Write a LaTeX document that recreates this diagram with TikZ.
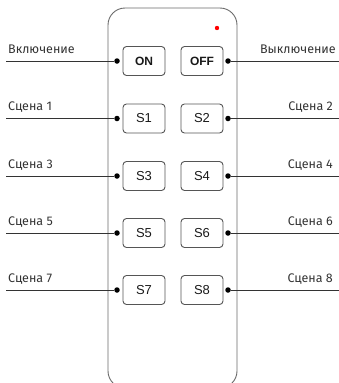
\documentclass[tikz,border=0pt]{standalone}
\usepackage{fontspec}
\setmainfont{Fira Sans}
\newfontfamily\btnfont{Liberation Sans}
\definecolor{linec}{HTML}{333333}
\definecolor{bodyc}{HTML}{6A6A6A}
\definecolor{btnc}{HTML}{555555}
\begin{document}
\begin{tikzpicture}[x=1pt,y=-1pt,
  btn/.style={draw=btnc,line width=0.9pt,rounded corners=3.5pt,minimum width=42pt,minimum height=29pt,inner sep=0pt,font=\btnfont\fontsize{13}{13}\selectfont,text=black!90},
  btnb/.style={btn,font=\btnfont\bfseries\fontsize{12}{12}\selectfont},
  dotn/.style={circle,fill=black,inner sep=0pt,minimum size=5.5pt},
  lab/.style={inner sep=0pt,font=\fontsize{12.5}{12.5}\selectfont,text=black!80},
  conn/.style={draw=linec,line width=0.9pt}]
\useasboundingbox (0,0) rectangle (339,383);
% remote body
\draw[bodyc,line width=0.9pt,rounded corners=17pt] (108,8) rectangle (237,388);
\fill[red] (217,28) circle (2.2pt);
% buttons
\node[btnb] (on) at (144,61) {ON};
\node[btnb] (off) at (202,61) {OFF};
\foreach \i/\y in {1/118.5,3/176,5/233,7/290}{
  \node[btn] (s\i) at (144,\y) {S\i};
}
\foreach \i/\y in {2/118.5,4/176,6/233,8/290}{
  \node[btn] (s\i) at (202,\y) {S\i};
}
% dots
\node[dotn] (don) at (117,61) {};
\node[dotn] (doff) at (228,61) {};
\foreach \i/\y in {1/118.5,3/176,5/233,7/290}{
  \node[dotn] (d\i) at (117,\y) {};
  \coordinate (e\i) at (6,\y);
}
\foreach \i/\y in {2/118.5,4/176,6/233,8/290}{
  \node[dotn] (d\i) at (228,\y) {};
  \coordinate (e\i) at (339,\y);
}
\coordinate (eon) at (6,61);
\coordinate (eoff) at (339,61);
% connectors
\draw[conn] (eon) -- (don);
\draw[conn] (doff) -- (eoff);
\foreach \i in {1,...,8}{ \draw[conn] (e\i) -- (d\i); }
% labels
\node[lab,anchor=base west] (lon) at (8,53) {Включение};
\node[lab,anchor=base east] (loff) at (336,53) {Выключение};
\foreach \i/\y in {1/110.5,3/168,5/225,7/282}{
  \node[lab,anchor=base west] (l\i) at (8,\y) {Сцена \i};
}
\foreach \i/\y in {2/110.5,4/168,6/225,8/282}{
  \node[lab,anchor=base east] (l\i) at (333,\y) {Сцена \i};
}
\end{tikzpicture}
\end{document}
